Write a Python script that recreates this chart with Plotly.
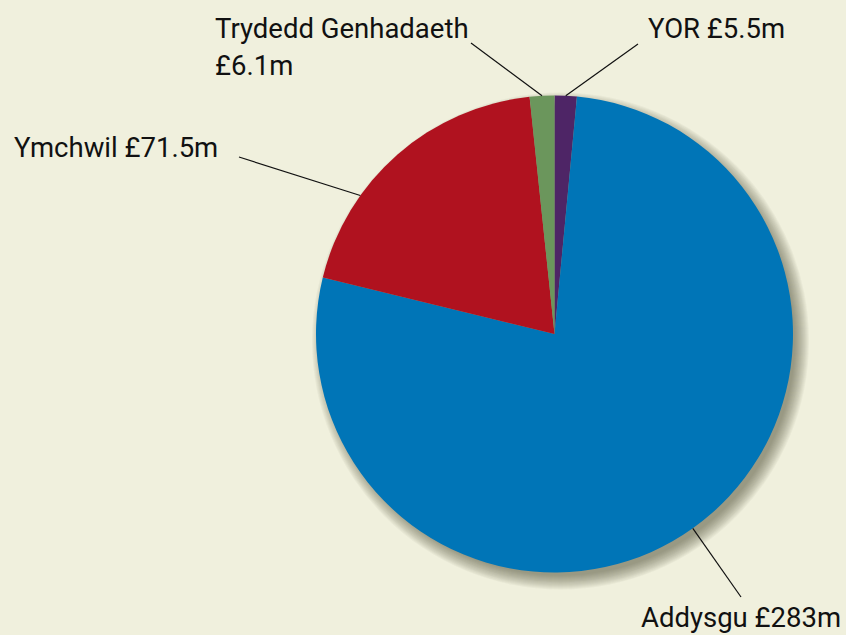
import math
import plotly.graph_objects as go

# ---- data ----
labels = ["YOR", "Addysgu", "Ymchwil", "Trydedd Genhadaeth"]
values = [5.5, 283, 71.5, 6.1]
value_text = ["£5.5m", "£283m", "£71.5m", "£6.1m"]
colors = ["#4E2566", "#0075B7", "#B0121F", "#6B965C"]

# ---- layout constants (pixels) ----
W, H = 846, 635
CX, CY, R = 554.5, 334.0, 238.5
BG = "#F0F0DD"
FONT = "Roboto, sans-serif"
FS = 27.5

def dom(cx, cy, r):
    return dict(x=[(cx - r) / W, (cx + r) / W],
                y=[1 - (cy + r) / H, 1 - (cy - r) / H])

fig = go.Figure()

# soft drop shadow (layers of translucent discs)
SH_DX, SH_DY = 6, 7
for k in range(-4, 11, 1):
    fig.add_trace(go.Pie(values=[1], labels=["s"], sort=False,
                         marker=dict(colors=["rgba(70,70,50,0.045)"], line=dict(width=0)),
                         textinfo="none", hoverinfo="skip", showlegend=False,
                         domain=dom(CX + SH_DX, CY + SH_DY, R + k)))

fig.add_trace(go.Pie(values=values, labels=labels, sort=False, direction="clockwise",
                     rotation=0, marker=dict(colors=colors, line=dict(width=0)),
                     textinfo="none", showlegend=False, domain=dom(CX, CY, R)))

# label placement (style): anchor fraction within slice, line outer end, text position
anchor_frac = [0.5, 0.5, 0.31, 0.5]
outer_end = [(638, 44), (741, 597), (239, 157), (471, 43)]
text_lines = [
    [("YOR " + value_text[0], 646, 28, "left")],
    [("Addysgu " + value_text[1], 843, 617, "right")],
    [("Ymchwil " + value_text[2], 12, 148, "left")],
    [(labels[3], 213, 28, "left"), (value_text[3], 213, 66, "left")],
]

total = sum(values)
start = 0.0
shapes, annotations = [], []
for i, v in enumerate(values):
    ang = math.radians((start + anchor_frac[i] * v) / total * 360.0)
    ix, iy = CX + R * math.sin(ang), CY - R * math.cos(ang)
    ox, oy = outer_end[i]
    shapes.append(dict(type="line", xref="paper", yref="paper",
                       x0=ix / W, y0=1 - iy / H, x1=ox / W, y1=1 - oy / H,
                       line=dict(color="#111111", width=1.2)))
    for txt, tx, ty, anc in text_lines[i]:
        annotations.append(dict(text=txt, x=tx / W, y=1 - ty / H, xref="paper", yref="paper",
                                xanchor=anc, yanchor="middle", showarrow=False,
                                font=dict(family=FONT, size=FS, color="#111111")))
    start += v

fig.update_layout(width=W, height=H, margin=dict(l=0, r=0, t=0, b=0),
                  paper_bgcolor=BG, plot_bgcolor=BG, showlegend=False,
                  shapes=shapes, annotations=annotations)

fig.write_html("out.html", config={"displayModeBar": False},
               post_script="document.body.style.margin='0';document.body.style.background='" + BG + "';")
